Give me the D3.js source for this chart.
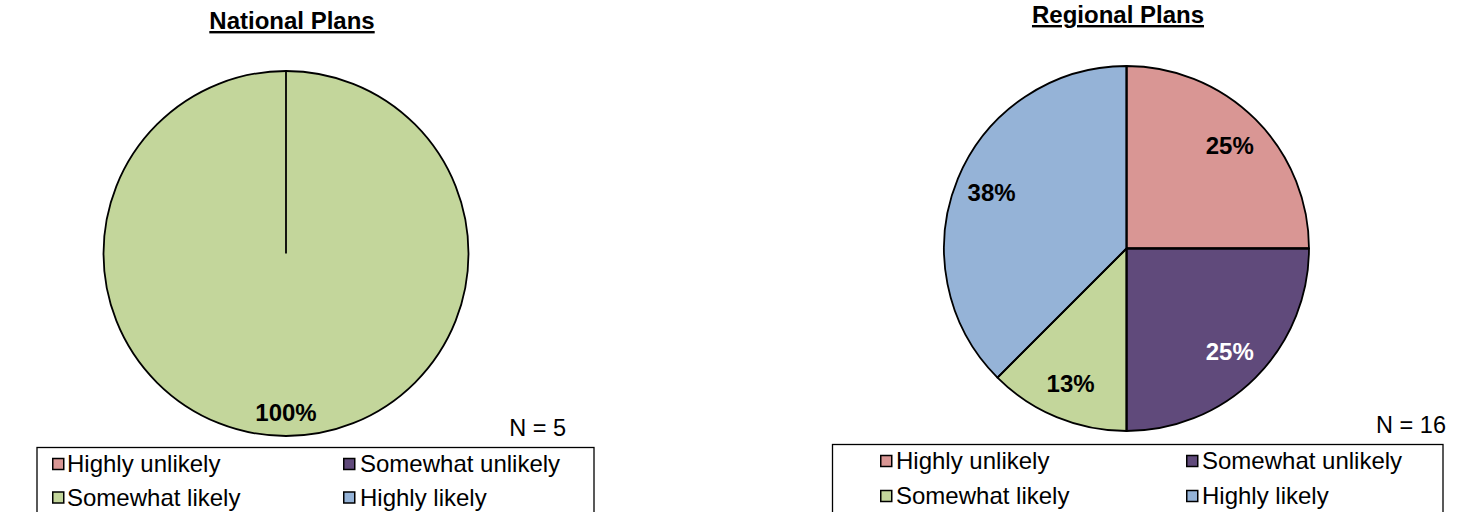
<!DOCTYPE html>
<html>
<head>
<meta charset="utf-8">
<script src="https://cdn.jsdelivr.net/npm/d3@7"></script>
<style>
  html, body { margin: 0; padding: 0; background: #fff; }
  svg { display: block; }
  text { font-family: "Liberation Sans", Arial, sans-serif; }
</style>
</head>
<body>
<svg id="chart" width="1457" height="512"></svg>
<script>
// Response categories, in slice order (clockwise from 12 o'clock)
const categories = ["Highly unlikely", "Somewhat unlikely", "Somewhat likely", "Highly likely"];

// Number of respondents per category
const nationalCounts = [0, 0, 5, 0];
const regionalCounts = [4, 4, 2, 6];

const chartTitles = ["National Plans", "Regional Plans"];

const sliceColors = ["#D99694", "#604A7B", "#C3D69B", "#95B3D7"];
const labelColors = ["#000000", "#ffffff", "#000000", "#000000"];

// Placement of each panel
const panels = [
  {
    title: chartTitles[0], counts: nationalCounts,
    cx: 286, cy: 253.5, r: 182.5, labelFrac: 0.87,
    titleX: 292, titleY: 29,
    nX: 566, nY: 436,
    box: { x: 37, y: 447.5, w: 557 },
    colX: [52, 343], textGap: [15, 17], rowY: [464, 497.5]
  },
  {
    title: chartTitles[1], counts: regionalCounts,
    cx: 1126.5, cy: 248.5, r: 182.5, labelFrac: 0.8,
    titleX: 1118, titleY: 23,
    nX: 1446, nY: 433,
    box: { x: 832.5, y: 444.5, w: 610.5 },
    colX: [880, 1186], textGap: [16, 16], rowY: [461, 496]
  }
];

const svg = d3.select("#chart");
svg.append("rect").attr("width", 1457).attr("height", 512).attr("fill", "#fff");

const pct = d3.format(".0%");

panels.forEach(p => {
  const total = d3.sum(p.counts);
  const data = categories.map((c, i) => ({ cat: c, value: p.counts[i], i }));

  const pie = d3.pie().sort(null).value(d => d.value);
  const arcs = pie(data).filter(a => a.data.value > 0);

  const arc = d3.arc().innerRadius(0).outerRadius(p.r);
  const labelArc = d3.arc().innerRadius(p.r * p.labelFrac).outerRadius(p.r * p.labelFrac);

  const g = svg.append("g").attr("transform", `translate(${p.cx},${p.cy})`);

  // Slices
  g.selectAll("path.slice")
    .data(arcs)
    .join("path")
    .attr("class", "slice")
    .attr("d", arc)
    .attr("fill", d => sliceColors[d.data.i])
    .attr("stroke", "#000")
    .attr("stroke-width", 1.8)
    .attr("stroke-linejoin", "round");

  // Radial edge at each slice start (visible even for a single full slice)
  g.selectAll("line.edge")
    .data(arcs)
    .join("line")
    .attr("class", "edge")
    .attr("x1", 0).attr("y1", 0)
    .attr("x2", d => p.r * Math.sin(d.startAngle))
    .attr("y2", d => -p.r * Math.cos(d.startAngle))
    .attr("stroke", "#000")
    .attr("stroke-width", 1.8);

  // Percentage labels
  g.selectAll("text.pct")
    .data(arcs)
    .join("text")
    .attr("class", "pct")
    .attr("transform", d => `translate(${labelArc.centroid(d)})`)
    .attr("text-anchor", "middle")
    .attr("dy", "0.36em")
    .attr("font-size", 24)
    .attr("font-weight", "bold")
    .attr("fill", d => labelColors[d.data.i])
    .text(d => pct(d.data.value / total));

  // Title
  svg.append("text")
    .attr("x", p.titleX).attr("y", p.titleY)
    .attr("text-anchor", "middle")
    .attr("font-size", 24)
    .attr("font-weight", "bold")
    .attr("text-decoration", "underline")
    .text(p.title);

  // Sample size
  svg.append("text")
    .attr("x", p.nX).attr("y", p.nY)
    .attr("text-anchor", "end")
    .attr("font-size", 23.5)
    .text(`N = ${total}`);

  // Legend frame
  svg.append("rect")
    .attr("x", p.box.x).attr("y", p.box.y)
    .attr("width", p.box.w).attr("height", 100)
    .attr("fill", "none")
    .attr("stroke", "#000")
    .attr("stroke-width", 1.3);

  const items = svg.append("g").selectAll("g.item")
    .data(categories)
    .join("g")
    .attr("class", "item")
    .attr("transform", (d, i) => `translate(${p.colX[i % 2]},${p.rowY[Math.floor(i / 2)]})`);

  items.append("rect")
    .attr("x", 0.75).attr("y", -5.5)
    .attr("width", 11).attr("height", 11)
    .attr("fill", (d, i) => sliceColors[i])
    .attr("stroke", "#000")
    .attr("stroke-width", 1.5);

  items.append("text")
    .attr("x", (d, i) => p.textGap[i % 2]).attr("y", 0)
    .attr("dy", "0.34em")
    .attr("font-size", 24)
    .text(d => d);
});
</script>
</body>
</html>
